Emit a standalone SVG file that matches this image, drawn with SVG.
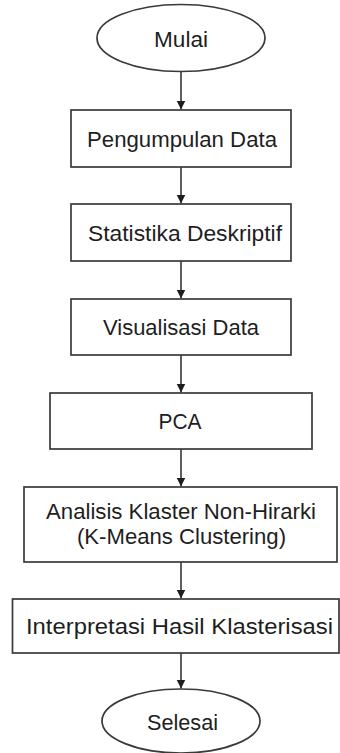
<svg xmlns="http://www.w3.org/2000/svg" width="340" height="753" viewBox="0 0 340 753">
  <style>
    .shape { fill: #ffffff; stroke: #3a3a3a; stroke-width: 1.7; }
    .label { font-family: "Liberation Sans", Arial, sans-serif; font-size: 22px; fill: #1e1e1e; text-anchor: middle; }
    .flow { stroke: #2a2a2a; stroke-width: 1.5; fill: none; marker-end: url(#arrow); }
  </style>
  <defs>
    <marker id="arrow" markerWidth="10" markerHeight="10" refX="9" refY="5" orient="auto" markerUnits="userSpaceOnUse">
      <path d="M0,0.5 L9,5 L0,9.5 Z" fill="#1e1e1e"/>
    </marker>
  </defs>
  <rect width="340" height="753" fill="#ffffff"/>

  <g id="connectors">
    <line class="flow" x1="181" y1="72" x2="181" y2="109.5"/>
    <line class="flow" x1="181" y1="167" x2="181" y2="203.5"/>
    <line class="flow" x1="181" y1="261" x2="181" y2="298.5"/>
    <line class="flow" x1="181" y1="355" x2="181" y2="392.5"/>
    <line class="flow" x1="181" y1="449" x2="181" y2="486.5"/>
    <line class="flow" x1="181" y1="562" x2="181" y2="598.5"/>
    <line class="flow" x1="181" y1="653" x2="181" y2="688.5"/>
  </g>

  <g id="mulai">
    <ellipse class="shape" cx="181" cy="38" rx="84" ry="33.5"/>
    <text class="label" x="181" y="47" textLength="54" lengthAdjust="spacingAndGlyphs">Mulai</text>
  </g>

  <g id="pengumpulan-data">
    <rect class="shape" x="71" y="110" width="220" height="57"/>
    <text class="label" x="182" y="147" textLength="190" lengthAdjust="spacingAndGlyphs">Pengumpulan Data</text>
  </g>

  <g id="statistika-deskriptif">
    <rect class="shape" x="71" y="204" width="220" height="57"/>
    <text class="label" x="185" y="241" textLength="194" lengthAdjust="spacingAndGlyphs">Statistika Deskriptif</text>
  </g>

  <g id="visualisasi-data">
    <rect class="shape" x="71" y="299" width="220" height="56"/>
    <text class="label" x="181" y="335" textLength="156" lengthAdjust="spacingAndGlyphs">Visualisasi Data</text>
  </g>

  <g id="pca">
    <rect class="shape" x="50" y="393" width="262" height="56"/>
    <text class="label" x="180" y="429" textLength="43" lengthAdjust="spacingAndGlyphs">PCA</text>
  </g>

  <g id="analisis-klaster">
    <rect class="shape" x="24" y="487" width="313" height="75"/>
    <text class="label" x="181" y="519" textLength="270" lengthAdjust="spacingAndGlyphs">Analisis Klaster Non-Hirarki</text>
    <text class="label" x="181.5" y="544" textLength="209" lengthAdjust="spacingAndGlyphs">(K-Means Clustering)</text>
  </g>

  <g id="interpretasi">
    <rect class="shape" x="12.5" y="599" width="326.5" height="54"/>
    <text class="label" x="179.5" y="634" textLength="307" lengthAdjust="spacingAndGlyphs">Interpretasi Hasil Klasterisasi</text>
  </g>

  <g id="selesai">
    <ellipse class="shape" cx="181" cy="721" rx="79" ry="32"/>
    <text class="label" x="182.5" y="730" textLength="71" lengthAdjust="spacingAndGlyphs">Selesai</text>
  </g>
</svg>
